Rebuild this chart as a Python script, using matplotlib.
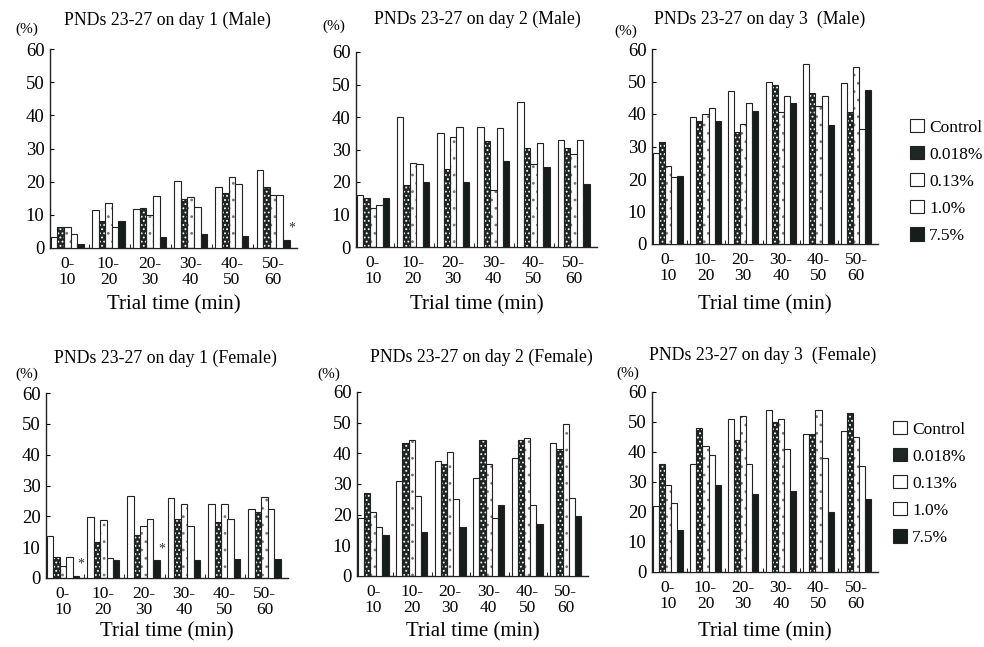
import numpy as np
import matplotlib
matplotlib.use('Agg')
import matplotlib.pyplot as plt
from matplotlib.patches import Patch

plt.rcParams['font.family'] = ['Liberation Serif', 'DejaVu Serif']
plt.rcParams['hatch.linewidth'] = 0.8

# groups and doses
time_bins = ['0-\n10', '10-\n20', '20-\n30', '30-\n40', '40-\n50', '50-\n60']
doses = ['Control', '0.018%', '0.13%', '1.0%', '7.5%']

# values, rows = dose, cols = time bin
male_day1 = [[3.3, 11.4, 11.7, 20.2, 18.4, 23.5],
             [6.3, 8.0, 12.0, 14.8, 16.6, 18.4],
             [6.3, 13.5, 10.0, 15.4, 21.4, 16.0],
             [4.2, 6.4, 15.7, 12.3, 19.3, 16.0],
             [1.2, 8.0, 3.3, 4.3, 3.5, 2.5]]
male_day2 = [[16, 40, 35, 37, 44.5, 33],
             [15, 19, 24, 32.5, 30.5, 30.5],
             [12, 26, 34, 17.5, 25.5, 28.5],
             [13, 25.5, 37, 36.5, 32, 33],
             [15, 20, 20, 26.5, 24.5, 19.5]]
male_day3 = [[28, 39, 47, 50, 55.5, 49.5],
             [31.5, 38, 34.5, 49, 46.5, 40.5],
             [24, 40, 37, 40.5, 42.5, 54.5],
             [20.5, 42, 43.5, 45.5, 45.5, 35.5],
             [21, 38, 41, 43.5, 36.5, 47.5]]
female_day1 = [[13.5, 19.8, 26.6, 26, 24, 22.5],
               [6.8, 11.8, 13.8, 19, 18.2, 21.5],
               [3.8, 18.8, 17, 24, 24, 26.3],
               [6.8, 6.5, 19, 17, 19, 22.5],
               [0.8, 5.8, 5.8, 6, 6.3, 6.3]]
female_day2 = [[19, 31, 37.5, 32, 38.5, 43.5],
               [27, 43.5, 36.5, 44.5, 44.5, 41.5],
               [21, 44.5, 40.5, 36.5, 45, 49.5],
               [16, 26, 25, 19, 23, 25.5],
               [13.5, 14.5, 16, 23, 17, 19.5]]
female_day3 = [[22, 36, 51, 54, 46, 47],
               [36, 48, 44, 50, 46, 53],
               [29, 42, 52, 51, 54, 45],
               [23, 39, 36, 41, 38, 35.5],
               [14, 29, 26, 27, 20, 24.5]]

titles = ['PNDs 23-27 on day 1 (Male)', 'PNDs 23-27 on day 2 (Male)',
          'PNDs 23-27 on day 3  (Male)', 'PNDs 23-27 on day 1 (Female)',
          'PNDs 23-27 on day 2 (Female)', 'PNDs 23-27 on day 3  (Female)']
# significance marks: (panel, time bin, dose)
stars = [(0, 5, 4), (3, 0, 4), (3, 2, 4)]

panels = [male_day1, male_day2, male_day3, female_day1, female_day2, female_day3]

# axes rectangles in figure fraction (from pixel layout)
W, H = 984, 647
def rect(l, r, b, t):
    return [l / W, 1 - b / H, (r - l) / W, (b - t) / H]
rects = [rect(50, 297, 248, 49), rect(356, 597, 247, 52), rect(652, 878, 244, 49),
         rect(46, 288, 578, 393), rect(357, 588, 576, 392), rect(652, 878, 572, 392)]
title_pos = [(167, 20), (477, 19), (760, 19), (165, 358), (481, 357), (763, 355)]
pct_pos = [(27, 29), (334, 26), (626, 31), (27, 374), (329, 374), (628, 373)]
xlabel_y = [305, 305, 305, 632, 632, 632]

faces = ['white', '#1d2723', 'white', 'white', '#161e1b']
hatch_col = [None, 'white', '#777777', None, None]
hatches = [None, '....', '..', None, None]

bw = 0.16
x0 = np.arange(len(time_bins))

fig = plt.figure(figsize=(9.84, 6.47), dpi=100)

for p, data in enumerate(panels):
    ax = fig.add_axes(rects[p])
    for j in range(len(doses)):
        xs = x0 + 0.02 + j * bw
        if hatches[j]:
            ax.bar(xs, data[j], width=bw, align='edge', color=faces[j],
                   edgecolor=hatch_col[j], hatch=hatches[j], linewidth=0, zorder=2)
            ax.bar(xs, data[j], width=bw, align='edge', fill=False,
                   edgecolor='#222222', linewidth=0.8, zorder=3)
        else:
            ax.bar(xs, data[j], width=bw, align='edge', color=faces[j],
                   edgecolor='#222222', linewidth=0.8, zorder=3)
    for (sp, g, d) in stars:
        if sp == p:
            ax.text(g + 0.02 + (d + 1) * bw + 0.05, data[d][g] + 1.5, '*',
                    ha='center', va='bottom', fontsize=10, color='#333333')
    ax.set_xlim(0, 6)
    ax.set_ylim(0, 60)
    ax.set_yticks(range(0, 61, 10))
    ax.set_xticks(x0 + 0.42)
    ax.set_xticklabels(time_bins, fontsize=12.5, linespacing=0.95)
    ax.set_xticks(x0[1:] - 0.06, minor=True)
    ax.tick_params(axis='x', which='major', length=0, pad=6)
    ax.tick_params(axis='x', which='minor', length=3, direction='in')
    ax.tick_params(axis='y', direction='in', length=3, labelsize=13.5, pad=4)
    for s in ['top', 'right']:
        ax.spines[s].set_visible(False)
    for s in ['left', 'bottom']:
        ax.spines[s].set_linewidth(1.0)
        ax.spines[s].set_color('#222222')
    cx = rects[p][0] + rects[p][2] / 2
    fig.text(title_pos[p][0] / W, 1 - title_pos[p][1] / H, titles[p],
             ha='center', va='center', fontsize=12.8)
    fig.text(pct_pos[p][0] / W, 1 - pct_pos[p][1] / H, '(%)',
             ha='center', va='center', fontsize=11)
    fig.text(cx, 1 - xlabel_y[p] / H, 'Trial time (min)',
             ha='center', va='center', fontsize=15)

handles = [Patch(facecolor=faces[j], edgecolor='#222222', linewidth=0.8)
           for j in range(len(doses))]
for (lx, ly) in [(903, 112), (886, 414)]:
    fig.legend(handles, doses, loc='upper left',
               bbox_to_anchor=(lx / W, 1 - ly / H), frameon=False,
               fontsize=12.5, handlelength=0.8, handleheight=0.8,
               handletextpad=0.3, labelspacing=0.6, borderaxespad=0)

fig.savefig('out.png', dpi=100)
